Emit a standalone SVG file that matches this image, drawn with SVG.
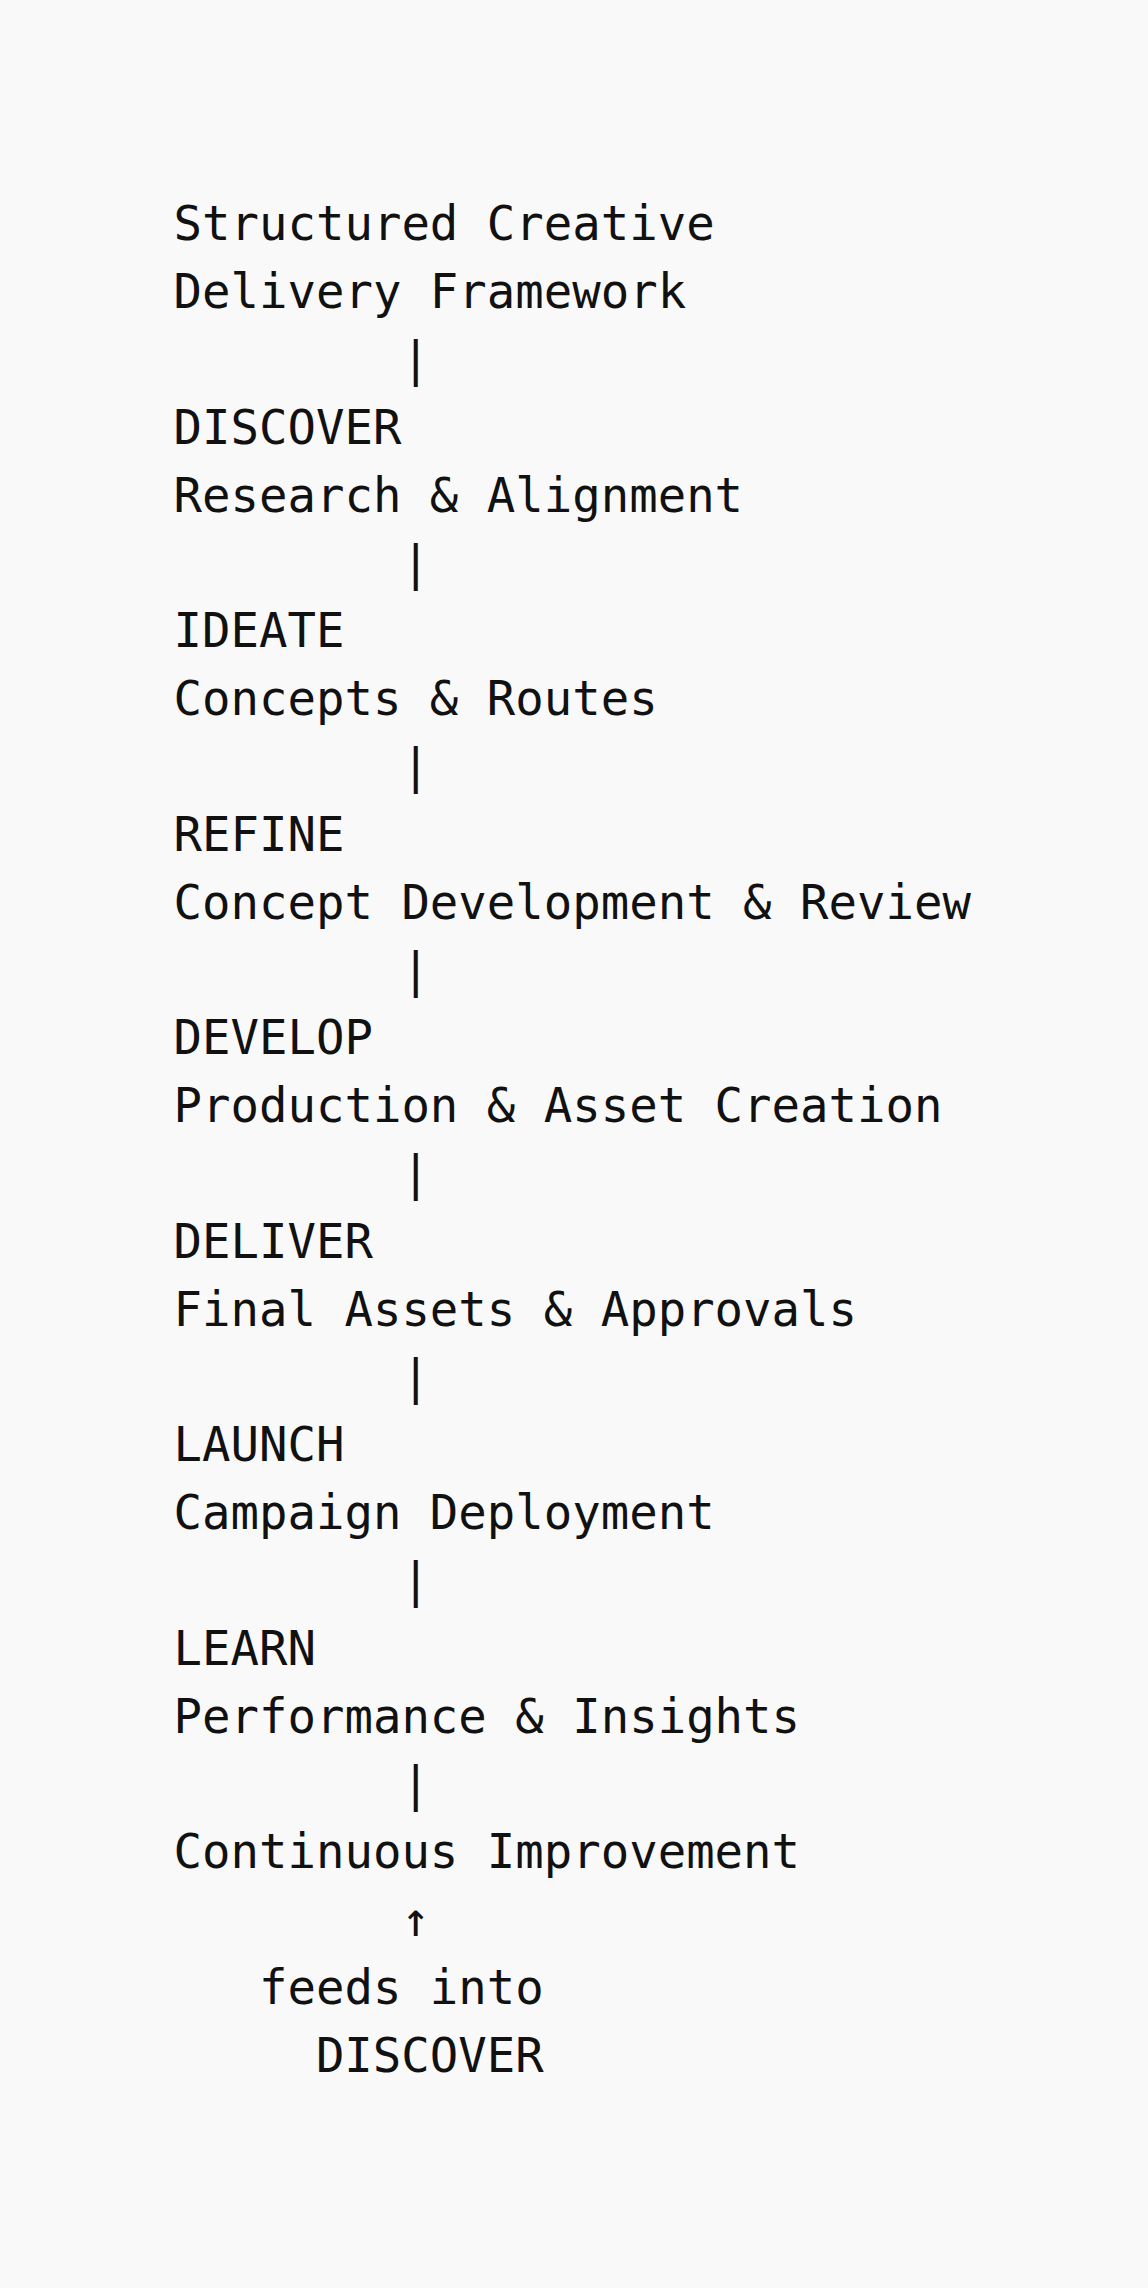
<svg xmlns="http://www.w3.org/2000/svg" width="1148" height="2288" viewBox="0 0 1148 2288">
<style>
text{font-family:"DejaVu Sans Mono","Liberation Mono",monospace;font-size:47.3px;fill:#111111}
</style>
<rect x="0" y="0" width="1148" height="2288" fill="#f9f9f9"/>
<g id="title"><text x="173.6" y="240.4">Structured Creative</text><text x="173.6" y="308.2">Delivery Framework</text></g>
<g id="discover"><text x="173.6" y="443.9">DISCOVER</text><text x="173.6" y="511.7">Research &amp; Alignment</text></g>
<g id="ideate"><text x="173.6" y="647.4">IDEATE</text><text x="173.6" y="715.2">Concepts &amp; Routes</text></g>
<g id="refine"><text x="173.6" y="850.9">REFINE</text><text x="173.6" y="918.7">Concept Development &amp; Review</text></g>
<g id="develop"><text x="173.6" y="1054.4">DEVELOP</text><text x="173.6" y="1122.2">Production &amp; Asset Creation</text></g>
<g id="deliver"><text x="173.6" y="1257.9">DELIVER</text><text x="173.6" y="1325.7">Final Assets &amp; Approvals</text></g>
<g id="launch"><text x="173.6" y="1461.4">LAUNCH</text><text x="173.6" y="1529.2">Campaign Deployment</text></g>
<g id="learn"><text x="173.6" y="1664.9">LEARN</text><text x="173.6" y="1732.7">Performance &amp; Insights</text></g>
<g id="improvement"><text x="173.6" y="1868.4">Continuous Improvement</text></g>
<g id="feedback"><text x="259" y="2003.9">feeds into</text><text x="315.9" y="2071.7">DISCOVER</text></g>
<g id="connectors">
<text x="401.4" y="376.1">|</text>
<text x="401.4" y="579.6">|</text>
<text x="401.4" y="783.1">|</text>
<text x="401.4" y="986.6">|</text>
<text x="401.4" y="1190.1">|</text>
<text x="401.4" y="1393.6">|</text>
<text x="401.4" y="1597.1">|</text>
<text x="401.4" y="1800.6">|</text>
<text x="401.4" y="1936.1">↑</text>
</g>
</svg>
